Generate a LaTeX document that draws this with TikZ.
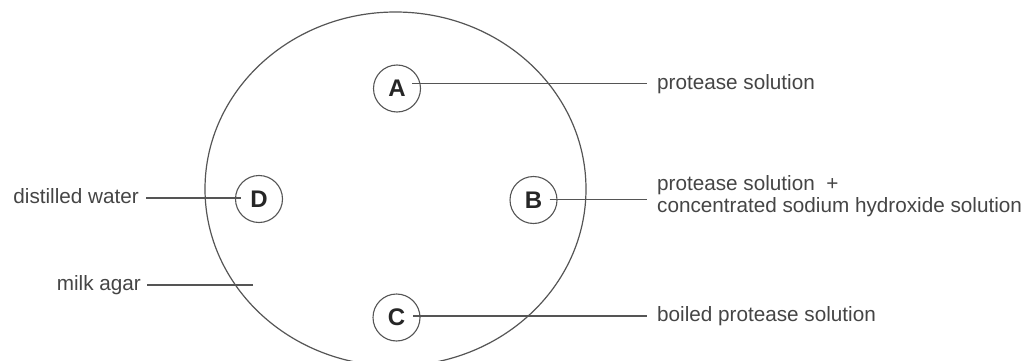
\documentclass[tikz,border=0pt]{standalone}
\usepackage{fontspec}
\setmainfont{Liberation Sans}
\usetikzlibrary{calc}
\definecolor{inkline}{HTML}{555555}
\definecolor{inktext}{HTML}{454545}
\definecolor{inkletter}{HTML}{262626}
\tikzset{
  plate/.style={draw=inkline, line width=1.2pt},
  well/.style={circle, draw=inkline, line width=1.1pt, minimum size=47pt, inner sep=0pt,
    text=inkletter, font=\fontsize{24}{26}\selectfont\bfseries},
  lead/.style={draw=inkline, line width=1.1pt},
  lbl/.style={text=inktext, inner sep=0pt, font=\fontsize{20.7}{22}\selectfont}
}
\begin{document}
\begin{tikzpicture}[x=1pt,y=-1pt]
\useasboundingbox (0,0) rectangle (1036,361);
\clip (0,0) rectangle (1036,361);
\fill[white] (0,0) rectangle (1036,361);
% agar plate
\draw[plate] (395.5,189) ellipse [x radius=190.5, y radius=177];
% wells
\node[well] (A) at (397,88.5) {A};
\node[well] (B) at (533.5,200) {B};
\node[well] (C) at (396.5,317.5) {C};
\node[well] (D) at (259,199) {D};
% labels
\node[lbl, anchor=base west] (la) at (657,89) {protease solution};
\node[lbl, anchor=base west, align=left] (lb) at (657,212) {protease solution\ \ +\\concentrated sodium hydroxide solution};
\node[lbl, anchor=base west] (lc) at (657,321) {boiled protease solution};
\node[lbl, anchor=base east] (ld) at (139,203) {distilled water};
\node[lbl, anchor=base east] (lm) at (141,290) {milk agar};
\coordinate (agar) at (253,285);
% leader lines
\draw[lead] ([shift={(-9pt,5pt)}]A.east) coordinate (a0) -- ($(a0 -| la.west)+(-10,0)$);
\draw[lead] ([shift={(-8pt,0.5pt)}]B.east) coordinate (b0) -- ($(b0 -| la.west)+(-10,0)$);
\draw[lead] ([shift={(-7.5pt,1.5pt)}]C.east) coordinate (c0) -- ($(c0 -| la.west)+(-10,0)$);
\draw[lead] ([shift={(6pt,1pt)}]D.west) coordinate (d0) -- ($(d0 -| ld.east)+(7,0)$);
\draw[lead] (agar) -- ($(agar -| lm.east)+(6,0)$);
\end{tikzpicture}
\end{document}
